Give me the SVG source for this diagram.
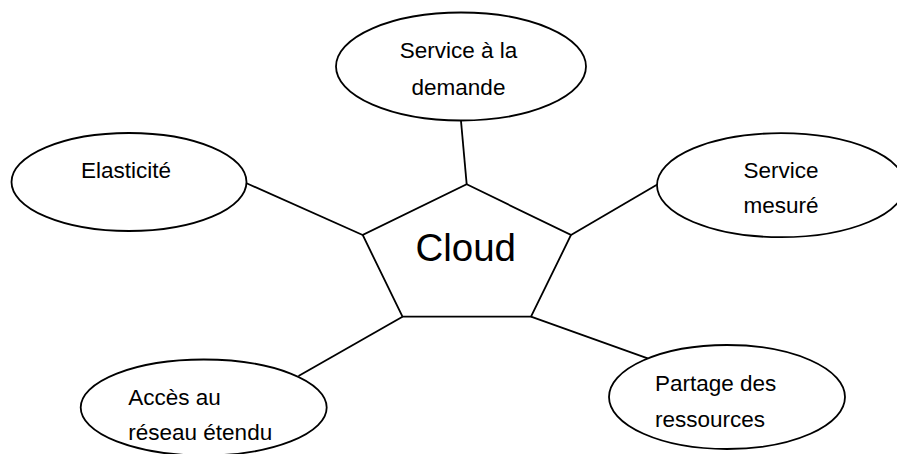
<svg xmlns="http://www.w3.org/2000/svg" width="897" height="454" viewBox="0 0 897 454">
  <style>
    .shape { fill: #ffffff; stroke: #000000; stroke-width: 1.8; }
    .link { stroke: #000000; stroke-width: 1.8; fill: none; }
    .label { font-family: "Liberation Sans", Arial, sans-serif; font-size: 22.5px; fill: #000000; }
    .mid { text-anchor: middle; }
    .core { font-family: "Liberation Sans", Arial, sans-serif; font-size: 38.5px; fill: #000000; text-anchor: middle; }
  </style>
  <rect width="897" height="454" fill="#ffffff"/>

  <!-- spokes from the pentagon to each feature -->
  <g id="connectors">
    <line class="link" x1="461" y1="121" x2="466.7" y2="184.3"/>
    <line class="link" x1="246" y1="183" x2="362.7" y2="235"/>
    <line class="link" x1="657.3" y1="184.5" x2="571" y2="235"/>
    <line class="link" x1="298.5" y1="376" x2="402.5" y2="316.7"/>
    <line class="link" x1="647.7" y1="358.3" x2="531" y2="316.7"/>
  </g>

  <g id="cloud">
    <polygon class="shape" points="466.7,184.3 571,235 531,316.7 402.5,316.7 362.7,235"/>
    <text class="core" x="465.7" y="261">Cloud</text>
  </g>

  <g id="service-demande">
    <ellipse class="shape" cx="461" cy="66.5" rx="125" ry="54"/>
    <text class="label mid" x="458.5" y="58.3">Service à la</text>
    <text class="label mid" x="458.5" y="95">demande</text>
  </g>

  <g id="elasticite">
    <ellipse class="shape" cx="129" cy="182" rx="117.5" ry="49"/>
    <text class="label" x="81" y="177.7">Elasticité</text>
  </g>

  <g id="service-mesure">
    <ellipse class="shape" cx="781" cy="185.2" rx="124" ry="52"/>
    <text class="label mid" x="781" y="178.3">Service</text>
    <text class="label mid" x="781" y="213.3">mesuré</text>
  </g>

  <g id="acces-reseau">
    <ellipse class="shape" cx="203.7" cy="407.5" rx="123" ry="48"/>
    <text class="label" x="128.3" y="405">Accès au</text>
    <text class="label" x="128.3" y="440">réseau étendu</text>
  </g>

  <g id="partage-ressources">
    <ellipse class="shape" cx="727" cy="397" rx="118" ry="52"/>
    <text class="label" x="655" y="390.7">Partage des</text>
    <text class="label" x="655" y="426.7">ressources</text>
  </g>
</svg>
